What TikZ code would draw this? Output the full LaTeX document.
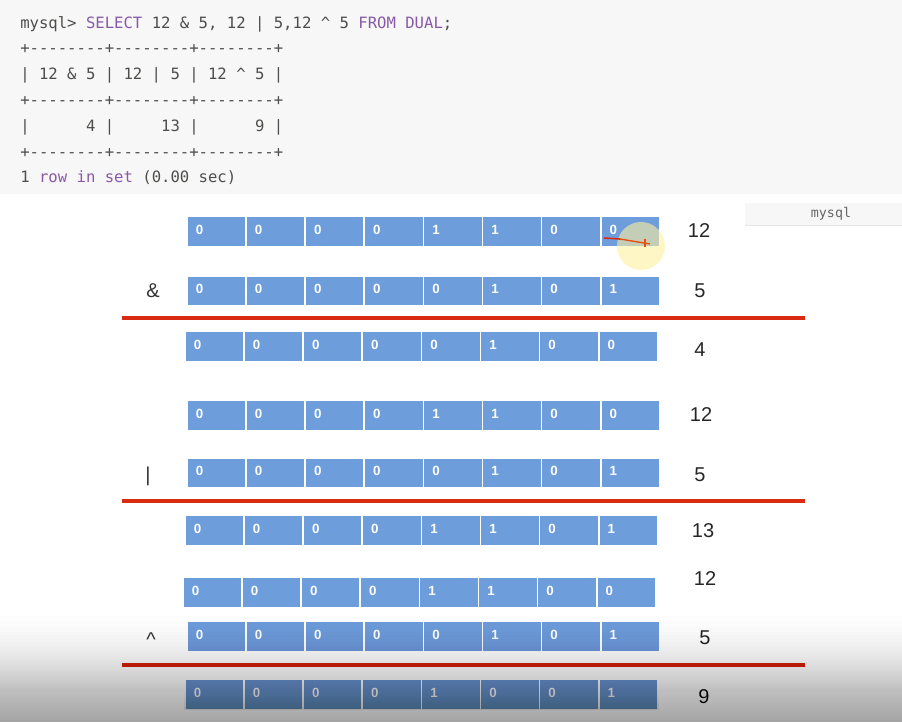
\documentclass[tikz,border=0pt]{standalone}
\usepackage{xcolor}
\usepackage{fontspec}
\setmainfont{Liberation Sans}
\setmonofont{DejaVu Sans Mono}
\usepackage{tikz}
\usetikzlibrary{positioning}
\definecolor{fundocodigo}{HTML}{F7F7F7}
\definecolor{textocodigo}{HTML}{4D4D4C}
\definecolor{roxo}{HTML}{8959A8}
\definecolor{azul}{HTML}{6D9DDB}
\definecolor{vermelho}{HTML}{D92B12}
\definecolor{ababorda}{HTML}{E6E6E6}
\definecolor{marcador}{HTML}{FFF0A0}
\tikzset{
  linhacod/.style={anchor=base west, inner sep=0pt, text=textocodigo,
    font=\ttfamily\fontsize{11.7}{14}\selectfont},
  celula/.style={rectangle, fill=azul, draw=white, line width=1.3pt,
    minimum width=44.3pt, minimum height=22.4pt, text width=31pt, text depth=3pt,
    inner xsep=6.6pt, inner ysep=0pt, align=left, text=white,
    font=\fontsize{10}{11}\selectfont\bfseries},
  valor/.style={inner sep=0pt, text=black!85, font=\fontsize{15}{18}\selectfont},
  operador/.style={valor, text=black!80},
  soma/.style={draw=vermelho, line width=2.3pt},
}
\newcommand{\kw}[1]{\textcolor{roxo}{#1}}
\newcommand{\linhabits}[4]{%
  \foreach \b [count=\i] in {#4}
    \node[celula] (#1-\i) at ({#2+(\i-0.5)*59.1},#3) {\b};
}

\begin{document}
\begin{tikzpicture}[x=0.75pt, y=-0.75pt]
    \useasboundingbox (0,0) rectangle (902,722);
    \fill[fundocodigo] (0,0) rectangle (902,194);
    \node[linhacod] (l1) at (20,28) {mysql> \kw{SELECT} 12 \& 5, 12 | 5,12 \textasciicircum{} 5 \kw{FROM} \kw{DUAL};};
    \node[linhacod] (l2) at (20,53.8) {+--------+--------+--------+};
    \node[linhacod] (l3) at (20,79.6) {| 12 \& 5 | 12 | 5 | 12 \textasciicircum{} 5 |};
    \node[linhacod] (l4) at (20,105.4) {+--------+--------+--------+};
    \node[linhacod] (l5) at (20,131.2) {|~~~~~~4~|~~~~~13~|~~~~~~9~|};
    \node[linhacod] (l6) at (20,157) {+--------+--------+--------+};
    \node[linhacod] (l7) at (20,182.8) {1 \kw{row} \kw{in} \kw{set} (0.00 sec)};

    \fill[fundocodigo] (745,203) rectangle (902,225);
    \draw[ababorda] (745,225) -- (902,225);
    \node[text=black!60, font=\ttfamily\fontsize{10}{11}\selectfont] (aba) at (831,214) {mysql};

    \linhabits{a}{187}{231.5}{0,0,0,0,1,1,0,0}
    \linhabits{b}{187}{291}{0,0,0,0,0,1,0,1}
    \linhabits{c}{185}{346.5}{0,0,0,0,0,1,0,0}
    \linhabits{d}{187}{415.5}{0,0,0,0,1,1,0,0}
    \linhabits{e}{187}{473}{0,0,0,0,0,1,0,1}
    \linhabits{f}{185}{530.5}{0,0,0,0,1,1,0,1}
    \linhabits{g}{183}{592.5}{0,0,0,0,1,1,0,0}
    \linhabits{h}{187}{636.5}{0,0,0,0,0,1,0,1}
    \linhabits{i}{185}{694.5}{0,0,0,0,1,0,0,1}

    \node[valor] (va) at (699,231) {12};
    \node[valor] (vb) at (700,291) {5};
    \node[valor] (vc) at (700,350) {4};
    \node[valor] (vd) at (701,415) {12};
    \node[valor] (ve) at (700,475) {5};
    \node[valor] (vf) at (703,531) {13};
    \node[valor] (vg) at (705,579) {12};
    \node[valor] (vh) at (705,638) {5};
    \node[valor] (vi) at (704,697) {9};

    \node[operador] (opand) at (153,291) {\&};
    \node[operador] (opor) at (148,476) {|};
    \node[operador] (opxor) at (151,640) {\textasciicircum};

    \draw[soma] (122,318) -- (805,318);
    \draw[soma] (122,501) -- (805,501);
    \draw[soma] (122,665) -- (805,665);

    \fill[marcador, opacity=0.6] (641,246) circle (24);
    \draw[vermelho, line width=1.2pt] (604,238) -- (620,239);
    \draw[vermelho!60!orange, line width=1pt] (620,239) -- (650,244);
    \draw[vermelho!60!orange, line width=0.8pt] (645,239) -- (645,247);

    \foreach \k in {1,...,60}
      \fill[black, opacity=0.007] (0,{600+122*sqrt(\k/60)}) rectangle (902,722);
  \end{tikzpicture}
\end{document}
